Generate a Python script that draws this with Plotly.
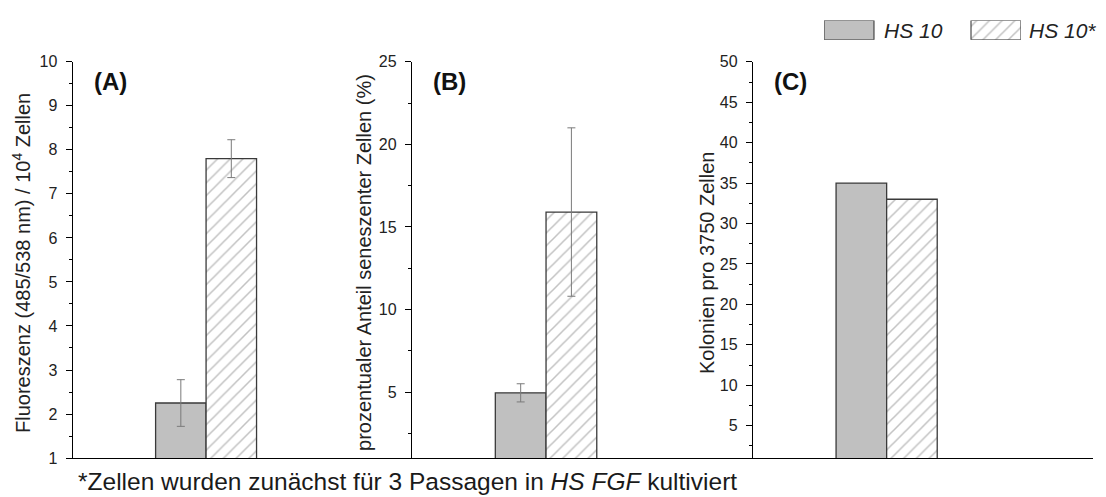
import plotly.graph_objects as go

# ---- data -------------------------------------------------------------
panels = ["(A)", "(B)", "(C)"]
series_names = ["HS 10", "HS 10*"]
hs10 = [2.25, 4.95, 35.0]
hs10_err = [0.53, 0.55, 0.0]
hs10_star = [7.8, 15.9, 33.0]
hs10_star_err = [0.43, 5.1, 0.0]
y_titles = [
    "Fluoreszenz (485/538 nm) / 10<sup>4</sup> Zellen",
    "prozentualer Anteil seneszenter Zellen (%)",
    "Kolonien pro 3750 Zellen",
]
y_ranges = [[1, 10], [1, 25], [1, 50]]
y_dticks = [1, 5, 5]
footnote = "*Zellen wurden zunächst für 3 Passagen in <i>HS FGF</i> kultiviert"

# ---- geometry / style ---------------------------------------------------
W, H = 1106, 497
FONT = "Arial, Liberation Sans, sans-serif"
GRAY = "#c0c0c0"
EDGE = "#3a3a3a"
HATCH = dict(shape="/", fgcolor="#858585", bgcolor="white", size=9,
             solidity=0.17, fillmode="overlay")
BAR_W = 0.4
X_RANGE = [-1.057, 1.632]


def fx(p):
    return p / W


def fy(p):
    return 1 - p / H


x_domains = [(72.7, 412), (412, 753), (753, 1093)]
y_domain = [fy(466), fy(55.7)]
title_x = [22, 364, 707]

fig = go.Figure()

for i in range(3):
    xa = "x" if i == 0 else f"x{i + 1}"
    ya = "y" if i == 0 else f"y{i + 1}"
    fig.add_trace(go.Bar(
        x=[0], y=[hs10[i]], width=BAR_W, offset=-BAR_W, name=series_names[0],
        xaxis=xa, yaxis=ya,
        marker=dict(color=GRAY, line=dict(color=EDGE, width=1.3)),
        error_y=dict(type="data", array=[hs10_err[i]], visible=hs10_err[i] > 0,
                     color="#7a7a7a", thickness=1, width=4),
    ))
    fig.add_trace(go.Bar(
        x=[0], y=[hs10_star[i]], width=BAR_W, offset=0, name=series_names[1],
        xaxis=xa, yaxis=ya,
        marker=dict(color="white", pattern=HATCH,
                    line=dict(color=EDGE, width=1.3)),
        error_y=dict(type="data", array=[hs10_star_err[i]],
                     visible=hs10_star_err[i] > 0,
                     color="#7a7a7a", thickness=1, width=4),
    ))

    sx = "" if i == 0 else str(i + 1)
    fig.layout[f"xaxis{sx}"] = dict(
        domain=[fx(x_domains[i][0]), fx(x_domains[i][1])], anchor=ya,
        range=X_RANGE, showline=True, linecolor="black", linewidth=1.3,
        showticklabels=False, ticks="", showgrid=False, zeroline=False,
        fixedrange=True,
    )
    fig.layout[f"yaxis{sx}"] = dict(
        domain=y_domain, anchor=xa, range=y_ranges[i],
        tick0=0, dtick=y_dticks[i],
        ticks="outside", ticklen=6, tickwidth=1, tickcolor="black",
        minor=dict(dtick=y_dticks[i] / 2, ticks="outside", ticklen=3,
                   tickwidth=1, tickcolor="black", showgrid=False),
        showline=True, linecolor="black", linewidth=1.3,
        showgrid=False, zeroline=False, ticklabelstandoff=5,
        tickfont=dict(family=FONT, size=16, color="#222"),
        fixedrange=True,
    )

    # panel letter
    fig.add_annotation(
        x=fx(x_domains[i][0] + 37.5), y=fy(76), xref="paper", yref="paper",
        text=f"<b>{panels[i]}</b>", showarrow=False,
        font=dict(family=FONT, size=24, color="#111"),
        xanchor="center", yanchor="middle",
    )
    # y-axis title
    fig.add_annotation(
        x=fx(title_x[i]), y=fy(264), xref="paper", yref="paper",
        text=y_titles[i], textangle=-90, showarrow=False,
        font=dict(family=FONT, size=20, color="#222"),
        xanchor="center", yanchor="middle",
    )

# ---- legend keys (drawn in their own hidden axis) -----------------------
fig.add_trace(go.Bar(
    x=[0], y=[1], width=0.34, offset=-0.17, xaxis="x4", yaxis="y4",
    marker=dict(color=GRAY, line=dict(color=EDGE, width=1.1)),
    hoverinfo="skip",
))
fig.add_trace(go.Bar(
    x=[1], y=[1], width=0.34, offset=-0.17, xaxis="x4", yaxis="y4",
    marker=dict(color="white", pattern=HATCH, line=dict(color=EDGE, width=1.1)),
    hoverinfo="skip",
))
fig.layout["xaxis4"] = dict(domain=[fx(824), fx(1021)], range=[-0.17, 1.17],
                            anchor="y4", visible=False, fixedrange=True)
fig.layout["yaxis4"] = dict(domain=[fy(33), fy(13)], range=[0, 1],
                            anchor="x4", visible=False, fixedrange=True)
for name, left in zip(series_names, [882, 1027]):
    fig.add_annotation(
        x=fx(left), y=fy(23), xref="paper", yref="paper",
        text=f"<i>{name}</i>", showarrow=False,
        font=dict(family=FONT, size=21, color="#222"),
        xanchor="left", yanchor="middle",
    )

# ---- footnote -------------------------------------------------------------
fig.add_annotation(
    x=fx(76), y=fy(490), xref="paper", yref="paper",
    text=footnote, showarrow=False,
    font=dict(family=FONT, size=24.5, color="#1a1a1a"),
    xanchor="left", yanchor="middle",
)

fig.update_layout(
    width=W, height=H, margin=dict(l=0, r=0, t=0, b=0),
    paper_bgcolor="white", plot_bgcolor="white",
    showlegend=False, barmode="overlay",
)

fig.write_html("out.html")
